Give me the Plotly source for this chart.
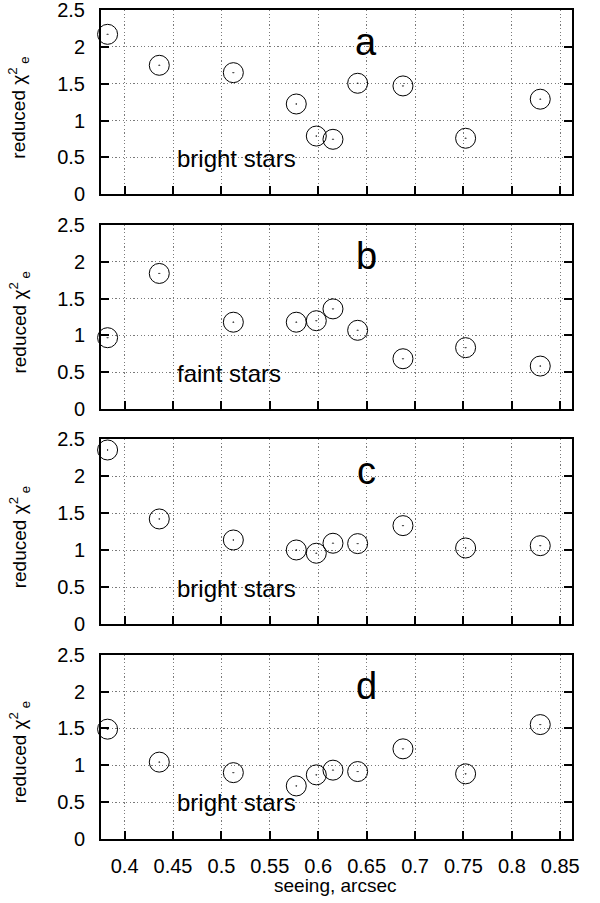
import plotly.graph_objects as go

# ---- data ----
seeing = [0.3824, 0.4358, 0.5123, 0.5773, 0.598, 0.6152, 0.6407, 0.6875, 0.7522, 0.8293]
chi_a = [2.17, 1.75, 1.65, 1.225, 0.79, 0.746, 1.506, 1.47, 0.76, 1.29]
chi_b = [0.97, 1.84, 1.18, 1.18, 1.20, 1.36, 1.07, 0.685, 0.835, 0.586]
chi_c = [2.355, 1.423, 1.139, 1.004, 0.96, 1.095, 1.09, 1.333, 1.031, 1.062]
chi_d = [1.49, 1.043, 0.90, 0.72, 0.87, 0.934, 0.915, 1.223, 0.884, 1.552]
panel_letters = ["a", "b", "c", "d"]
panel_notes = ["bright stars", "faint stars", "bright stars", "bright stars"]
x_ticks = [0.4, 0.45, 0.5, 0.55, 0.6, 0.65, 0.7, 0.75, 0.8, 0.85]
x_ticklabels = ["0.4", "0.45", "0.5", "0.55", "0.6", "0.65", "0.7", "0.75", "0.8", "0.85"]
y_ticks = [0, 0.5, 1, 1.5, 2, 2.5]
y_ticklabels = ["0", "0.5", "1", "1.5", "2", "2.5"]
series = [chi_a, chi_b, chi_c, chi_d]
y_title = "reduced χ<sup>2</sup><sub> e</sub>"
x_title = "seeing, arcsec"

FONT = "Liberation Sans, Arial, Helvetica, sans-serif"
domains = [[0.7777, 1.0], [0.5183, 0.7410], [0.2590, 0.4822], [0.0, 0.2223]]
GRID = "#7a7a7a"
GRIDDASH = "1.2px,2.4px"

fig = go.Figure()
annotations = []
for i, vals in enumerate(series):
    n = i + 1
    xa = "x" if n == 1 else f"x{n}"
    ya = "y" if n == 1 else f"y{n}"
    fig.add_trace(go.Scatter(
        x=seeing, y=vals, mode="markers", xaxis=xa, yaxis=ya,
        marker=dict(symbol="circle-open-dot", size=20, color="black",
                    line=dict(width=1, color="black")),
        showlegend=False, cliponaxis=False,
    ))
    xkey = "xaxis" if n == 1 else f"xaxis{n}"
    ykey = "yaxis" if n == 1 else f"yaxis{n}"
    fig.update_layout({
        xkey: dict(
            domain=[0, 1], anchor=ya, range=[0.3756, 0.8621],
            tickvals=x_ticks, ticktext=x_ticklabels,
            showticklabels=(n == 4), automargin=False, ticklabeloverflow="allow",
            ticks="inside", ticklen=8, tickwidth=1.5, tickcolor="black",
            showline=True, linecolor="black", linewidth=2, mirror=True,
            showgrid=True, gridcolor=GRID, gridwidth=1, griddash=GRIDDASH,
            zeroline=False, tickfont=dict(size=20, color="black", family=FONT),
            ticklabelstandoff=8,
        ),
        ykey: dict(
            domain=domains[i], anchor=xa, range=[0, 2.5],
            tickvals=y_ticks, ticktext=y_ticklabels, automargin=False,
            ticklabeloverflow="allow",
            ticks="inside", ticklen=8, tickwidth=1.5, tickcolor="black",
            showline=True, linecolor="black", linewidth=2, mirror="ticks",
            showgrid=True, gridcolor=GRID, gridwidth=1, griddash=GRIDDASH,
            zeroline=False, tickfont=dict(size=20, color="black", family=FONT),
            ticklabelstandoff=10,
        ),
    })
    annotations.append(dict(
        x=0.6495, y=2.07, xref=xa, yref=ya, text=panel_letters[i],
        showarrow=False, xanchor="center", yanchor="middle",
        font=dict(size=38, color="black", family=FONT),
    ))
    annotations.append(dict(
        x=0.4516, y=0.49, xref=xa, yref=ya, text=panel_notes[i],
        showarrow=False, xanchor="left", yanchor="middle",
        font=dict(size=24, color="black", family=FONT),
    ))
    annotations.append(dict(
        x=-0.174, y=(domains[i][0] + domains[i][1]) / 2 - 0.0066,
        xref="paper", yref="paper", text=y_title, textangle=-90,
        showarrow=False, xanchor="center", yanchor="middle",
        font=dict(size=19, color="black", family=FONT),
    ))

annotations.append(dict(
    x=0.4975, y=-0.0555, xref="paper", yref="paper", text=x_title,
    showarrow=False, xanchor="center", yanchor="middle",
    font=dict(size=19, color="black", family=FONT),
))

fig.update_layout(
    width=600, height=903,
    margin=dict(l=101, r=28, t=10, b=64, autoexpand=False),
    paper_bgcolor="white", plot_bgcolor="white",
    annotations=annotations,
    font=dict(family=FONT, color="black"),
)

fig.write_html("out.html", config={"displayModeBar": False},
               post_script="document.body.style.margin='0';document.body.style.overflow='hidden';")
